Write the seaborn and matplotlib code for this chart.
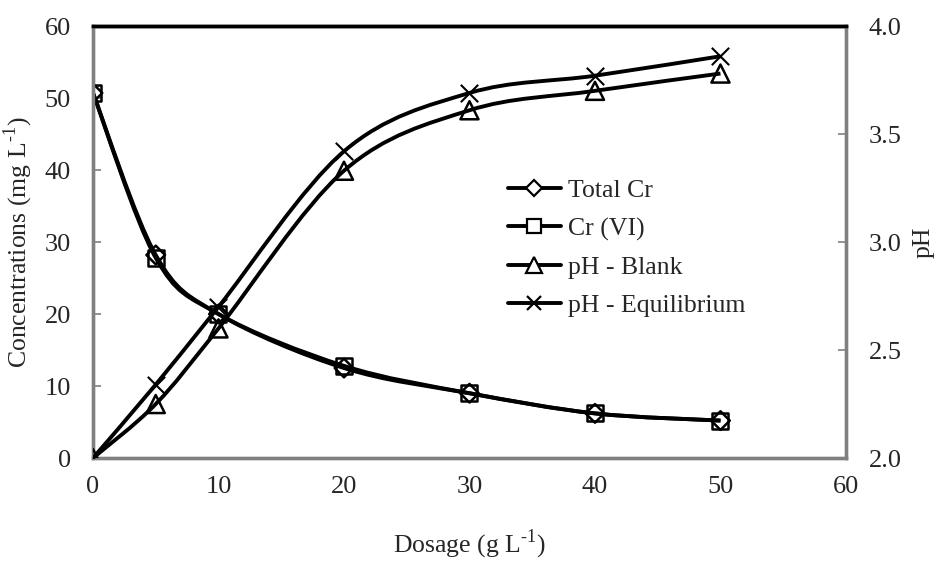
import numpy as np
import pandas as pd
import matplotlib
matplotlib.use("Agg")
import matplotlib.pyplot as plt
import seaborn as sns
from matplotlib.path import Path
from matplotlib.patches import PathPatch
from matplotlib.lines import Line2D

dosage = [0, 5, 10, 20, 30, 40, 50]
total_cr = [50.7, 28.2, 20.0, 12.5, 9.0, 6.2, 5.2]
cr_vi = [50.7, 27.8, 20.0, 12.8, 9.0, 6.2, 5.2]
ph_blank = [2.0, 2.25, 2.60, 3.33, 3.61, 3.70, 3.78]
ph_equil = [2.0, 2.34, 2.70, 3.42, 3.69, 3.77, 3.86]

sns.set_theme(style="white")
plt.rcParams['font.family'] = ['Liberation Serif', 'DejaVu Serif']
plt.rcParams['mathtext.fontset'] = 'custom'
plt.rcParams['mathtext.rm'] = 'Liberation Serif'

fig = plt.figure(figsize=(9.43, 5.62), dpi=100)
ax = fig.add_axes([0.0986, 0.185, 0.7985, 0.7687])
ax2 = ax.twinx()

def smooth_path(xs, ys):
    xs = np.asarray(xs, float); ys = np.asarray(ys, float)
    n = len(xs)
    verts = [(xs[0], ys[0])]
    codes = [Path.MOVETO]
    for i in range(n - 1):
        p0 = np.array([xs[max(i - 1, 0)], ys[max(i - 1, 0)]])
        p1 = np.array([xs[i], ys[i]])
        p2 = np.array([xs[i + 1], ys[i + 1]])
        p3 = np.array([xs[min(i + 2, n - 1)], ys[min(i + 2, n - 1)]])
        c1 = p1 + (p2 - p0) / 6.0
        c2 = p2 - (p3 - p1) / 6.0
        verts += [tuple(c1), tuple(c2), tuple(p2)]
        codes += [Path.CURVE4] * 3
    return Path(verts, codes)

lw = 2.8
series = [
    (ax, total_cr, 'D', "Total Cr", 9.5),
    (ax, cr_vi, 's', "Cr (VI)", 11.5),
    (ax2, ph_blank, '^', "pH - Blank", 13),
    (ax2, ph_equil, 'x', "pH - Equilibrium", 12.5),
]
handles = []
for a, ys, mk, name, msz in series:
    a.add_patch(PathPatch(smooth_path(dosage, ys), facecolor='none', edgecolor='black', lw=lw, zorder=3))
    df = pd.DataFrame({"x": dosage, "y": ys})
    if mk == 'x':
        sns.scatterplot(data=df, x="x", y="y", ax=a, marker='x', s=msz**2, color='black', linewidth=1.5, zorder=4, legend=False)
    else:
        sns.scatterplot(data=df, x="x", y="y", ax=a, marker=mk, s=msz**2, facecolor='none', edgecolor='black', linewidth=1.8, zorder=4, legend=False)
    handles.append(Line2D([], [], color='black', lw=lw, marker=mk, markersize=msz * 0.85,
                          markerfacecolor='white' if mk != 'x' else 'black', markeredgecolor='black', markeredgewidth=1.6))

ax.set_xlim(0, 60)
ax.set_ylim(0, 60)
ax2.set_ylim(2.0, 4.0)
ax.set_xticks(range(0, 61, 10))
ax.set_yticks(range(0, 61, 10))
ax2.set_yticks([2.0, 2.5, 3.0, 3.5, 4.0])
ax2.set_yticklabels(["2.0", "2.5", "3.0", "3.5", "4.0"])

ax.set_xlabel(r"Dosage (g L$^{\text{-1}}$)", fontsize=18.5)
ax.set_ylabel(r"Concentrations (mg L$^{\text{-1}}$)", fontsize=18.5)
ax2.set_ylabel("pH", fontsize=18.5)
ax.xaxis.set_label_coords(0.5, -0.160)
ax.yaxis.set_label_coords(-0.077, 0.5)
ax2.yaxis.set_label_coords(1.089, 0.5)

for a in (ax, ax2):
    for s in ('left', 'right', 'bottom'):
        a.spines[s].set_color('#808080')
        a.spines[s].set_linewidth(2.4)
    a.spines['top'].set_color('black')
    a.spines['top'].set_linewidth(2.5)
    a.tick_params(labelsize=19, direction='in', length=6, width=1.2, color='#808080')
ax.tick_params(axis='x', pad=13)
ax.tick_params(axis='y', pad=16)
ax2.tick_params(axis='y', pad=16.5)
ax.grid(False); ax2.grid(False)

ax.legend(handles, [s[3] for s in series], loc='upper left', bbox_to_anchor=(0.534, 0.676),
          frameon=False, fontsize=18.5, handlelength=2.06, handletextpad=0.27, labelspacing=0.6, borderpad=0)

fig.savefig("out.png", dpi=100)
